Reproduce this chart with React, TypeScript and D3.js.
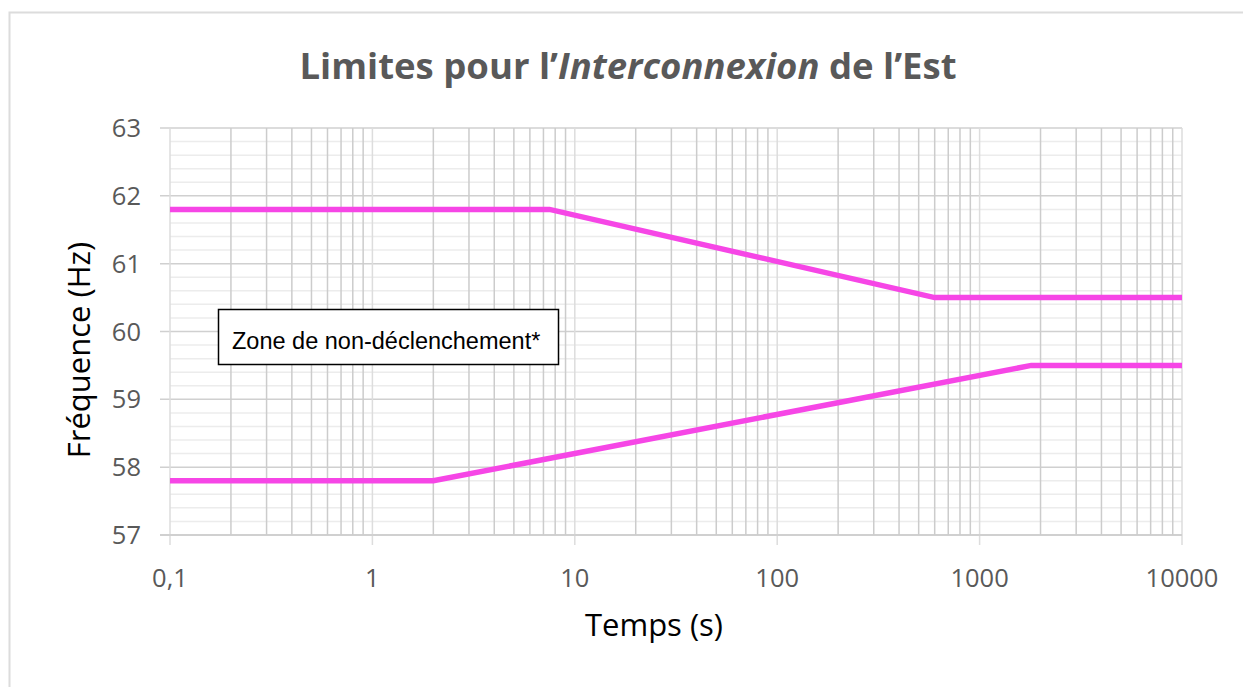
import React from "react";
import * as d3 from "d3";

// temps (s) / fréquence (Hz)
const upperTime = [0.1, 7.5, 600, 10000];
const upperFreq = [61.8, 61.8, 60.5, 60.5];
const lowerTime = [0.1, 2, 1800, 10000];
const lowerFreq = [57.8, 57.8, 59.5, 59.5];
const xTicks = [0.1, 1, 10, 100, 1000, 10000];
const xTickLabels = ["0,1", "1", "10", "100", "1000", "10000"];
const yTicks = [57, 58, 59, 60, 61, 62, 63];

const width = 1243;
const height = 687;
const margin = { top: 128, right: 61, bottom: 152, left: 170 };

function App() {
  const x = d3.scaleLog().domain([0.1, 10000]).range([margin.left, width - margin.right]);
  const y = d3.scaleLinear().domain([57, 63]).range([height - margin.bottom, margin.top]);
  const x0 = x.range()[0], x1 = x.range()[1];
  const y0 = y.range()[0], y1 = y.range()[1];

  const minorY = d3.range(57, 63.001, 0.2).filter(v => Math.abs(v - Math.round(v)) > 0.01);
  const minorX: number[] = [];
  for (let dec = 0.1; dec < 10000; dec *= 10) {
    for (let k = 2; k <= 9; k++) minorX.push(dec * k);
  }

  const line = d3.line<[number, number]>().x(d => x(d[0])).y(d => y(d[1]));
  const upper = upperTime.map((t, i) => [t, upperFreq[i]] as [number, number]);
  const lower = lowerTime.map((t, i) => [t, lowerFreq[i]] as [number, number]);

  const tickFont = "'Open Sans', sans-serif";

  return (
    <div style={{ position: "absolute", left: 0, top: 0 }}>
      <svg width={width} height={height} style={{ display: "block" }}>
        <rect x={0} y={0} width={width} height={height} fill="#fff" />
        <path d={`M9.5,${height} V12.5 H${width}`} fill="none" stroke="#dcdcdc" strokeWidth={2} />

        <text x={628} y={79} textAnchor="middle" fontFamily={tickFont} fontWeight="bold"
          fontSize={36.5} fill="#595959">
          Limites pour l’<tspan fontStyle="italic">Interconnexion</tspan> de l’Est
        </text>

        {/* grille */}
        {minorY.map(v => (
          <line key={"my" + v} x1={x0} x2={x1} y1={y(v)} y2={y(v)} stroke="#ececec" strokeWidth={1.5} />
        ))}
        {yTicks.map(v => (
          <line key={"gy" + v} x1={margin.left - 10} x2={x1} y1={y(v)} y2={y(v)} stroke="#d0d0d0" strokeWidth={1.5} />
        ))}
        {minorX.map(v => (
          <line key={"mx" + v} x1={x(v)} x2={x(v)} y1={y1} y2={y0} stroke="#cccccc" strokeWidth={1.5} />
        ))}
        {xTicks.map(v => (
          <line key={"gx" + v} x1={x(v)} x2={x(v)} y1={y1} y2={y0 + 10} stroke="#dddddd" strokeWidth={1.5} />
        ))}
        <line x1={margin.left - 10} x2={x1} y1={y0} y2={y0} stroke="#cccccc" strokeWidth={1.5} />

        {/* étiquettes */}
        {yTicks.map(v => (
          <text key={"ty" + v} x={141} y={y(v) + 9} textAnchor="end" fontFamily={tickFont}
            fontSize={25.5} fill="#595959">{v}</text>
        ))}
        {xTicks.map((v, i) => (
          <text key={"tx" + v} x={x(v)} y={587} textAnchor="middle" fontFamily={tickFont}
            fontSize={25.5} fill="#595959">{xTickLabels[i]}</text>
        ))}
        <text x={654} y={636} textAnchor="middle" fontFamily={tickFont} fontSize={31} fill="#000">Temps (s)</text>
        <text transform="translate(90,350) rotate(-90)" textAnchor="middle" fontFamily={tickFont}
          fontSize={31} fill="#000">Fréquence (Hz)</text>

        {/* limites */}
        <path d={line(upper) || ""} fill="none" stroke="#f646e6" strokeWidth={5.5} />
        <path d={line(lower) || ""} fill="none" stroke="#f646e6" strokeWidth={5.5} />

        <rect x={218.5} y={309.5} width={340} height={55} fill="#fff" stroke="#000" strokeWidth={1.5} />
        <text x={232} y={349} fontFamily="'Liberation Sans', Arial, sans-serif" fontSize={23.5} fill="#000">
          Zone de non-déclenchement*
        </text>
      </svg>
    </div>
  );
}

export default App;
